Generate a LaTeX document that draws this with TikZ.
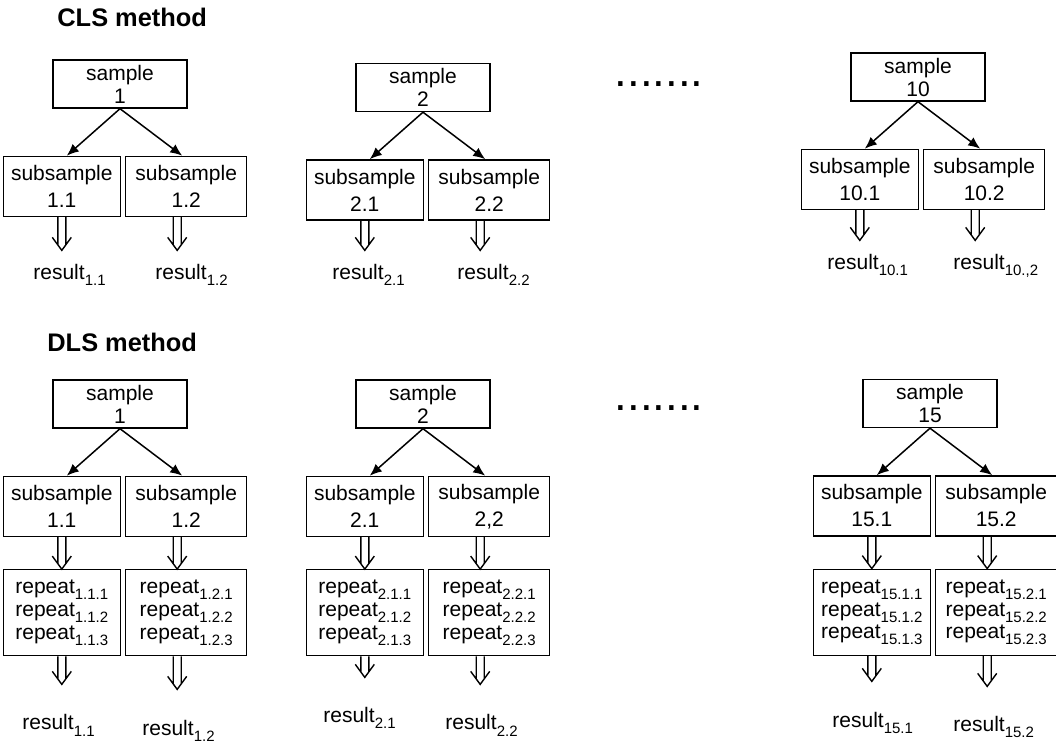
\documentclass[tikz,border=0pt]{standalone}
\usepackage{fontspec}
\setmainfont{Liberation Sans}
\usetikzlibrary{arrows.meta, positioning, calc}

\newcommand{\idx}[1]{\raisebox{-3pt}{\fontsize{7.5}{8}\selectfont #1}}

\begin{document}
\begin{tikzpicture}[x=0.5pt, y=-0.5pt,
    cell/.style={rectangle, draw, line width=0.7pt, align=center, inner sep=1pt},
    smpl/.style={cell, minimum width=67pt, minimum height=24pt, font=\fontsize{10.5}{11.5}\selectfont},
    subl/.style={cell, minimum width=58.5pt, minimum height=30pt, font=\fontsize{10.5}{13.5}\selectfont},
    subr/.style={subl, minimum width=60.5pt},
    repl/.style={cell, minimum width=58.5pt, minimum height=43pt, font=\fontsize{10.5}{11.3}\selectfont},
    repr/.style={repl, minimum width=60.5pt},
    result/.style={anchor=base west, inner sep=0pt, font=\fontsize{10.5}{12}\selectfont},
    title/.style={anchor=west, inner sep=0pt, font=\bfseries\fontsize{12.7}{15}\selectfont},
    dots/.style={inner sep=0pt, font=\fontsize{22.8}{24}\selectfont},
    line/.style={draw, -{Latex[length=6pt, width=5pt]}, line width=0.75pt},
    fat/.style={line width=0.7pt, to path={let \p1=(\tikztostart), \p2=(\tikztotarget) in
        (\x1-2pt,\y1) -- (\x1-2pt,\y2+#1+2.7pt)
        (\x1+2pt,\y1) -- (\x1+2pt,\y2+#1+2.7pt)
        (\x1-4.75pt,\y2+#1+6.5pt) -- (\x1,\y2+#1) -- (\x1+4.75pt,\y2+#1+6.5pt)}},
    fat/.default=0pt]

    \useasboundingbox (0,0) rectangle (1056,753);

    % CLS method
    \node[title] (clst) at (57,17) {CLS method};

    \node[smpl] (s1) at (120,84) {sample\\1};
    \node[subl, below left=23.5pt and -0.5pt of s1.south] (c11) {subsample\\1.1};
    \node[subr, below right=23.5pt and 2.5pt of s1.south] (c12) {subsample\\1.2};
    \node[result] (r11) at (33,280) {result\idx{1.1}};
    \node[result] (r12) at (155,280) {result\idx{1.2}};

    \node[smpl] (s2) at (423,87.5) {sample\\2};
    \node[subl, below left=23.5pt and -0.5pt of s2.south] (c21) {subsample\\2.1};
    \node[subr, below right=23.5pt and 2.5pt of s2.south] (c22) {subsample\\2.2};
    \node[result] (r21) at (332,280) {result\idx{2.1}};
    \node[result] (r22) at (457,280) {result\idx{2.2}};

    \node[dots] (gap1) at (659,84) {.......};

    \node[smpl] (s10) at (918,77) {sample\\10};
    \node[subl, below left=23.5pt and -0.5pt of s10.south] (c101) {subsample\\10.1};
    \node[subr, below right=23.5pt and 2.5pt of s10.south] (c102) {subsample\\10.2};
    \node[result] (r101) at (827,270) {result\idx{10.1}};
    \node[result] (r102) at (953,270) {result\idx{10.,2}};

    \path[line] (s1.south) -- ([xshift=2.5pt]c11.north);
    \path[line] (s1.south) -- ([xshift=-2pt]c12.north);
    \path[line] (s2.south) -- ([xshift=2.5pt]c21.north);
    \path[line] (s2.south) -- ([xshift=-2pt]c22.north);
    \path[line] (s10.south) -- ([xshift=2.5pt]c101.north);
    \path[line] (s10.south) -- ([xshift=-2pt]c102.north);

    \draw[fat=7pt] (c11.south) to (r11.north);
    \draw[fat=7pt] ([xshift=-4.5pt]c12.south) to (r12.north);
    \draw[fat=7pt] (c21.south) to (r21.north);
    \draw[fat=7pt] ([xshift=-4.5pt]c22.south) to (r22.north);
    \draw[fat=7pt] (c101.south) to (r101.north);
    \draw[fat=7pt] ([xshift=-4.5pt]c102.south) to (r102.north);

    % DLS method
    \node[title] (dlst) at (47,342) {DLS method};

    \node[smpl] (d1) at (120,404) {sample\\1};
    \node[subl, below left=23.5pt and -0.5pt of d1.south] (e11) {subsample\\1.1};
    \node[subr, below right=23.5pt and 2.5pt of d1.south] (e12) {subsample\\1.2};
    \node[repl, below=16pt of e11] (p11) {repeat\idx{1.1.1}\\repeat\idx{1.1.2}\\repeat\idx{1.1.3}};
    \node[repr, below=16pt of e12] (p12) {repeat\idx{1.2.1}\\repeat\idx{1.2.2}\\repeat\idx{1.2.3}};
    \node[result] (q11) at (22,730) {result\idx{1.1}};
    \node[result] (q12) at (142,735) {result\idx{1.2}};

    \node[smpl] (d2) at (423,404) {sample\\2};
    \node[subl, below left=23.5pt and -0.5pt of d2.south] (e21) {subsample\\2.1};
    \node[subr, below right=23.5pt and 2.5pt of d2.south] (e22) {subsample\\2,2};
    \node[repl, below=16pt of e21] (p21) {repeat\idx{2.1.1}\\repeat\idx{2.1.2}\\repeat\idx{2.1.3}};
    \node[repr, below=16pt of e22] (p22) {repeat\idx{2.2.1}\\repeat\idx{2.2.2}\\repeat\idx{2.2.3}};
    \node[result] (q21) at (323,723) {result\idx{2.1}};
    \node[result] (q22) at (445,730) {result\idx{2.2}};

    \node[dots] (gap2) at (659,408) {.......};

    \node[smpl] (d15) at (930,403.5) {sample\\15};
    \node[subl, below left=23.5pt and -0.5pt of d15.south] (e151) {subsample\\15.1};
    \node[subr, below right=23.5pt and 2.5pt of d15.south] (e152) {subsample\\15.2};
    \node[repl, below=16pt of e151] (p151) {repeat\idx{15.1.1}\\repeat\idx{15.1.2}\\repeat\idx{15.1.3}};
    \node[repr, below=16pt of e152] (p152) {repeat\idx{15.2.1}\\repeat\idx{15.2.2}\\repeat\idx{15.2.3}};
    \node[result] (q151) at (832,727) {result\idx{15.1}};
    \node[result] (q152) at (953,732) {result\idx{15.2}};

    \path[line] (d1.south) -- ([xshift=2.5pt]e11.north);
    \path[line] (d1.south) -- ([xshift=-2pt]e12.north);
    \path[line] (d2.south) -- ([xshift=2.5pt]e21.north);
    \path[line] (d2.south) -- ([xshift=-2pt]e22.north);
    \path[line] (d15.south) -- ([xshift=2.5pt]e151.north);
    \path[line] (d15.south) -- ([xshift=-2pt]e152.north);

    \draw[fat] (e11.south) to (p11.north);
    \draw[fat] ([xshift=-4.5pt]e12.south) to (p12.north);
    \draw[fat] (e21.south) to (p21.north);
    \draw[fat] ([xshift=-4.5pt]e22.south) to (p22.north);
    \draw[fat] (e151.south) to (p151.north);
    \draw[fat] ([xshift=-4.5pt]e152.south) to (p152.north);

    \draw[fat=15pt] (p11.south) to (q11.north);
    \draw[fat=15pt] ([xshift=-4.5pt]p12.south) to (q12.north);
    \draw[fat=15pt] (p21.south) to (q21.north);
    \draw[fat=15pt] ([xshift=-4.5pt]p22.south) to (q22.north);
    \draw[fat=15pt] (p151.south) to (q151.north);
    \draw[fat=15pt] ([xshift=-4.5pt]p152.south) to (q152.north);

\end{tikzpicture}
\end{document}
